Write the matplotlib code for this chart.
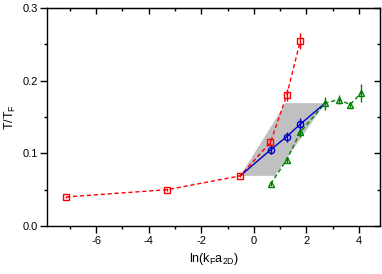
import matplotlib
matplotlib.use("Agg")
import matplotlib.pyplot as plt
from matplotlib.ticker import MultipleLocator, FormatStrFormatter

plt.rcParams['font.family'] = ['Liberation Sans', 'DejaVu Sans']
plt.rcParams['axes.unicode_minus'] = False

# Red squares
red_x = [-7.14, -3.30, -0.52, 0.63, 1.25, 1.77]
red_y = [0.040, 0.050, 0.069, 0.115, 0.180, 0.255]
red_err = [0.002, 0.002, 0.002, 0.004, 0.008, 0.011]

# Blue circles (line starts at red point and ends at green point)
blue_x = [0.64, 1.25, 1.76]
blue_y = [0.105, 0.123, 0.140]
blue_err = [0.006, 0.007, 0.008]
blue_line_x = [-0.52, 0.64, 1.25, 1.76, 2.71]
blue_line_y = [0.069, 0.105, 0.123, 0.140, 0.169]

# Green triangles
green_x = [0.64, 1.25, 1.76, 2.71, 3.24, 3.66, 4.08]
green_y = [0.058, 0.091, 0.129, 0.169, 0.174, 0.167, 0.183]
green_err = [0.003, 0.004, 0.006, 0.009, 0.006, 0.004, 0.013]

# Grey band polygon
band_x = [-0.52, 1.21, 2.71, 0.80]
band_y = [0.069, 0.169, 0.169, 0.069]

xticks = [-6, -4, -2, 0, 2, 4]
yticks = [0.0, 0.1, 0.2, 0.3]

fig = plt.figure(figsize=(3.82, 2.74), dpi=100)
ax = fig.add_axes([0.124, 0.175, 0.871, 0.796])

ax.fill(band_x, band_y, color='#c0c0c0', lw=0, zorder=1)

ax.plot(red_x, red_y, ls=(0, (3, 2)), color='#ff0000', lw=1.0, zorder=2)
ax.errorbar(red_x, red_y, yerr=red_err, fmt='s', ms=4.2, mfc='none', mec='#ff0000',
            mew=1.0, ecolor='#ff0000', elinewidth=1.0, capsize=0, zorder=3)

ax.plot(green_x, green_y, ls=(0, (3, 2)), color='#008000', lw=1.0, zorder=2)
ax.errorbar(green_x, green_y, yerr=green_err, fmt='^', ms=5, mfc='none', mec='#008000',
            mew=1.0, ecolor='#008000', elinewidth=1.0, capsize=0, zorder=3)

ax.plot(blue_line_x, blue_line_y, ls='-', color='#0000cc', lw=1.0, zorder=2)
ax.errorbar(blue_x, blue_y, yerr=blue_err, fmt='o', ms=4.5, mfc='none', mec='#0000cc',
            mew=1.0, ecolor='#0000cc', elinewidth=1.0, capsize=0, zorder=3)

ax.set_xlim(-7.85, 4.8)
ax.set_ylim(0, 0.3)
ax.set_xticks(xticks)
ax.set_yticks(yticks)
ax.yaxis.set_major_formatter(FormatStrFormatter('%.1f'))
ax.xaxis.set_minor_locator(MultipleLocator(1))
ax.yaxis.set_minor_locator(MultipleLocator(0.05))

ax.tick_params(axis='both', which='both', labelsize=8, width=1.0, pad=2)
ax.tick_params(axis='x', which='major', direction='out', length=5, bottom=True, top=False)
ax.tick_params(axis='x', which='minor', direction='out', length=2.5, bottom=True, top=False)
ax.tick_params(axis='y', which='major', direction='out', length=5, left=True, right=False)
ax.tick_params(axis='y', which='minor', direction='out', length=2.5, left=True, right=False)

# inward ticks on top and right spines
secx = ax.secondary_xaxis('top')
secx.set_xticks(xticks)
secx.xaxis.set_minor_locator(MultipleLocator(1))
secx.tick_params(which='major', direction='in', length=4, width=1.0, labeltop=False)
secx.tick_params(which='minor', direction='in', length=2, width=1.0)
secx.set_xticklabels([])
secy = ax.secondary_yaxis('right')
secy.set_yticks(yticks)
secy.yaxis.set_minor_locator(MultipleLocator(0.05))
secy.tick_params(which='major', direction='in', length=4, width=1.0)
secy.tick_params(which='minor', direction='in', length=2, width=1.0)
secy.set_yticklabels([])

for s in ax.spines.values():
    s.set_linewidth(1.0)

ax.set_xlabel(r'ln(k$_\mathregular{F}$a$_\mathregular{2D}$)', fontsize=9, labelpad=4)
ax.set_ylabel(r'T/T$_\mathregular{F}$', fontsize=9, labelpad=3)

fig.savefig('out.png', dpi=100)
